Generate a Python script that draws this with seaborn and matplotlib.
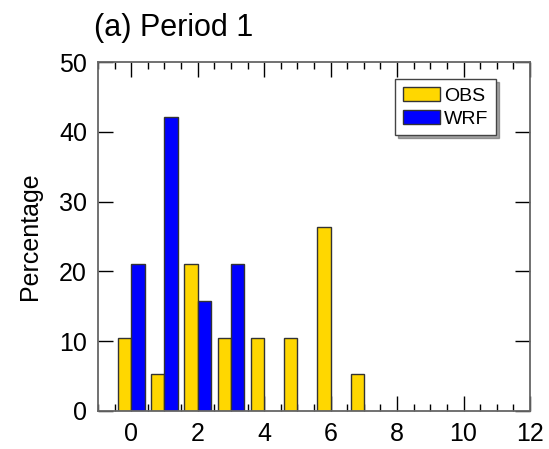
import matplotlib
matplotlib.use("Agg")
import matplotlib.pyplot as plt
import seaborn as sns
import pandas as pd
from matplotlib.patches import Patch
from matplotlib.ticker import MultipleLocator

bins_obs = [0, 1, 2, 3, 4, 5, 6, 7]
obs_pct = [10.53, 5.26, 21.05, 10.53, 10.53, 10.53, 26.32, 5.26]
bins_wrf = [0, 1, 2, 3]
wrf_pct = [21.05, 42.11, 15.79, 21.05]
series = ["OBS", "WRF"]
colors = {"OBS": "#FFD700", "WRF": "#0000FF"}

df = pd.concat([
    pd.DataFrame({"bin": bins_obs, "pct": obs_pct, "src": "OBS"}),
    pd.DataFrame({"bin": bins_wrf, "pct": wrf_pct, "src": "WRF"}),
], ignore_index=True)

sns.set_theme(style="white")
plt.rcParams["font.family"] = ["Liberation Sans", "DejaVu Sans"]
plt.rcParams["text.color"] = "black"
plt.rcParams["axes.labelcolor"] = "black"
plt.rcParams["xtick.color"] = "black"
plt.rcParams["ytick.color"] = "black"

fig = plt.figure(figsize=(5.49, 4.49), dpi=100)
ax = fig.add_axes([98/549, 38/449, (530-98)/549, (411-62)/449])

sns.barplot(data=df, x="bin", y="pct", hue="src", hue_order=series,
            palette=colors, native_scale=True, width=0.8, dodge=True,
            edgecolor="#333333", linewidth=1.0, saturation=1, ax=ax,
            legend=False, errorbar=None, zorder=3)

ax.set_xlim(-1, 12)
ax.set_ylim(0, 50)
ax.xaxis.set_major_locator(MultipleLocator(2))
ax.xaxis.set_minor_locator(MultipleLocator(0.5))
ax.yaxis.set_major_locator(MultipleLocator(10))
ax.tick_params(axis="both", which="major", direction="in", length=11, width=1,
               color="black", labelcolor="black", labelsize=18, top=True, right=True,
               bottom=True, left=True, pad=8)
ax.tick_params(axis="x", which="minor", direction="in", length=5, width=1,
               color="black", top=True, bottom=True)
for s in ax.spines.values():
    s.set_color("#666666")
    s.set_linewidth(1.3)
    s.set_zorder(4)

ax.set_xlabel("")
ax.set_ylabel("Percentage", fontsize=18, labelpad=12, color="black")
ax.set_title("(a) Period 1", fontsize=22, loc="left", x=-0.01, pad=19, color="black")

handles = [Patch(facecolor=colors[s], edgecolor="#333333", linewidth=1, label=s)
           for s in series]
leg = ax.legend(handles=handles, loc="upper right", bbox_to_anchor=(0.921, 0.951),
                fontsize=14, frameon=True, fancybox=False, shadow=True,
                handlelength=1.9, handleheight=0.75, handletextpad=0.2,
                borderpad=0.4, labelspacing=0.25, borderaxespad=0)
leg.get_frame().set_edgecolor("#444444")
leg.get_frame().set_linewidth(1)
for t in leg.get_texts():
    t.set_color("black")

fig.savefig("out.png", dpi=100)
